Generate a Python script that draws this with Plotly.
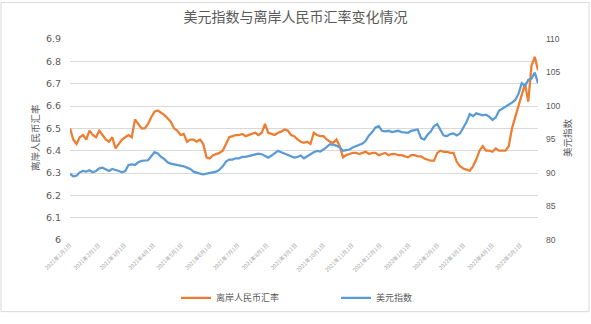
import pandas as pd
import plotly.graph_objects as go

# sample dates (every 3.5 days, 2021-01-01 .. 2022-05-20)
dates = pd.date_range("2021-01-01", periods=145, freq="84h")

cnh = [
    6.50, 6.45, 6.43, 6.46, 6.47, 6.45, 6.49, 6.47, 6.46, 6.49,
    6.47, 6.45, 6.44, 6.46, 6.41, 6.43, 6.45, 6.46, 6.47, 6.46,
    6.54, 6.52, 6.50, 6.50, 6.52, 6.55, 6.575, 6.58, 6.57, 6.56,
    6.545, 6.53, 6.50, 6.49, 6.47, 6.475, 6.44, 6.45, 6.45, 6.44,
    6.45, 6.43, 6.37, 6.365, 6.38, 6.385, 6.39, 6.40, 6.43, 6.46,
    6.465, 6.47, 6.47, 6.475, 6.465, 6.47, 6.475, 6.48, 6.47, 6.48,
    6.52, 6.48, 6.475, 6.47, 6.48, 6.485, 6.495, 6.49, 6.47, 6.465,
    6.45, 6.44, 6.435, 6.44, 6.43, 6.48, 6.47, 6.465, 6.465, 6.45,
    6.44, 6.435, 6.45, 6.42, 6.37, 6.38, 6.385, 6.39, 6.39, 6.385,
    6.39, 6.395, 6.385, 6.39, 6.39, 6.38, 6.385, 6.39, 6.38, 6.385,
    6.385, 6.38, 6.38, 6.375, 6.37, 6.38, 6.38, 6.375, 6.375, 6.365,
    6.36, 6.355, 6.355, 6.39, 6.40, 6.395, 6.395, 6.39, 6.39, 6.35,
    6.33, 6.32, 6.315, 6.31, 6.33, 6.36, 6.40, 6.42, 6.40, 6.40,
    6.395, 6.41, 6.40, 6.40, 6.40, 6.42, 6.50, 6.55, 6.60, 6.66,
    6.70, 6.62, 6.78, 6.82, 6.76,
]

dxy = [
    89.9, 89.5, 89.6, 90.1, 90.3, 90.2, 90.4, 90.1, 90.3, 90.7,
    90.8, 90.5, 90.3, 90.6, 90.5, 90.3, 90.1, 90.3, 91.2, 91.3,
    91.2, 91.6, 91.8, 91.9, 91.9, 92.5, 93.1, 92.9, 92.4, 92.1,
    91.6, 91.4, 91.3, 91.2, 91.2, 91.0, 90.8, 90.6, 90.2, 90.0,
    89.9, 89.8, 89.9, 90.0, 90.0, 90.2, 90.5, 91.0, 91.7, 92.0,
    92.0, 92.2, 92.2, 92.4, 92.4, 92.5, 92.6, 92.7, 92.9, 92.8,
    92.6, 92.3, 92.6, 92.9, 93.3, 93.1, 92.9, 92.8, 92.5, 92.3,
    92.4, 92.6, 92.2, 92.5, 92.9, 93.1, 93.3, 93.2, 93.5, 93.9,
    94.3, 94.2, 94.1, 93.8, 93.3, 93.4, 93.5, 93.8, 94.0, 94.1,
    94.4, 94.8, 95.6, 96.1, 96.8, 97.0, 96.3, 96.2, 96.3, 96.1,
    96.2, 96.3, 96.1, 96.0, 96.0, 96.3, 96.4, 96.5, 95.2, 95.0,
    95.7, 96.2, 97.0, 97.3, 96.4, 95.6, 95.5, 95.8, 95.9, 95.6,
    95.9, 96.8, 97.6, 98.8, 98.5, 98.9, 98.7, 98.6, 98.7, 98.4,
    97.9, 98.3, 99.3, 99.6, 99.9, 100.1, 100.5, 100.9, 101.8, 103.4,
    103.0, 103.9, 104.1, 105.0, 103.4,
]

tick_dates = pd.date_range("2021-01-01", "2022-05-01", freq="MS")
tick_text = [f"{d.year}年{d.month}月1日" for d in tick_dates]

title_text = "美元指数与离岸人民币汇率变化情况"
left_title = "离岸人民币汇率"
right_title = "美元指数"

ORANGE = "#ED7D31"
BLUE = "#5B9BD5"
CJK = "Noto Sans CJK SC"

W, H = 591, 324
L, R, T, B = 70, 53, 39, 76

fig = go.Figure()
fig.add_trace(go.Scatter(x=dates, y=cnh, name=left_title, mode="lines",
                         line=dict(color=ORANGE, width=2.25), yaxis="y"))
fig.add_trace(go.Scatter(x=dates, y=dxy, name=right_title, mode="lines",
                         line=dict(color=BLUE, width=2.25), yaxis="y2"))

pw, ph = W - L - R, H - T - B


def px(x):
    return (x - L) / pw


def py(y):
    return (H - B - y) / ph


fig.update_layout(
    width=W, height=H,
    margin=dict(l=L, r=R, t=T, b=B),
    paper_bgcolor="white", plot_bgcolor="white",
    font=dict(family=CJK, color="#595959"),
    title=dict(text=title_text, x=0.5, xanchor="center", y=1 - 17 / H,
               yanchor="middle", font=dict(size=14, color="#595959", family=CJK)),
    xaxis=dict(
        type="date",
        range=[dates[0], dates[-1]],
        tickmode="array", tickvals=tick_dates, ticktext=tick_text,
        tickangle=-45, tickfont=dict(size=5.5, color="#a6a6a6", family=CJK),
        showgrid=False, showline=False, zeroline=False, ticks="",
    ),
    yaxis=dict(
        range=[6, 6.9], dtick=0.1, tick0=6,
        showgrid=True, gridcolor="#d9d9d9", gridwidth=1,
        zeroline=False, showline=False, ticks="",
        ticklabelstandoff=8,
        tickfont=dict(size=9.5, color="#595959", family="DejaVu Sans"),
    ),
    yaxis2=dict(
        range=[80, 110], dtick=5, tick0=80, overlaying="y", side="right",
        showgrid=False, zeroline=False, showline=False, ticks="",
        ticklabelstandoff=7,
        tickfont=dict(size=8.5, color="#595959", family="Liberation Sans"),
    ),
    legend=dict(
        orientation="h", x=px(176), xanchor="left", y=py(293), yanchor="top",
        font=dict(size=9, color="#595959", family=CJK),
        entrywidth=115, entrywidthmode="pixels", bgcolor="rgba(0,0,0,0)",
    ),
    annotations=[
        dict(text=left_title, xref="paper", yref="paper", x=px(35), y=py(142),
             xanchor="center", yanchor="middle", textangle=-90, showarrow=False,
             font=dict(size=9.5, color="#595959", family=CJK)),
        dict(text=right_title, xref="paper", yref="paper", x=px(567), y=py(142),
             xanchor="center", yanchor="middle", textangle=-90, showarrow=False,
             font=dict(size=9.5, color="#595959", family=CJK)),
    ],
    shapes=[dict(type="rect", xref="paper", yref="paper",
                 x0=px(1), x1=px(589), y0=py(322.5), y1=py(1),
                 line=dict(color="#d9d9d9", width=1), layer="below")],
)

fig.write_html("out.html")
